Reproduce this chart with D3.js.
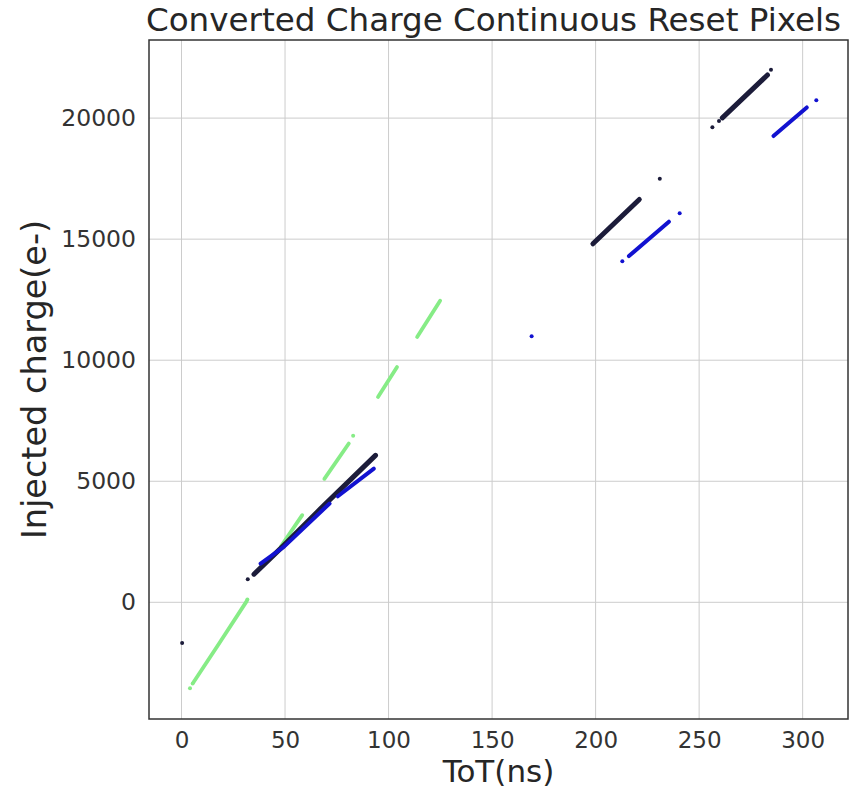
<!DOCTYPE html>
<html>
<head>
<meta charset="utf-8">
<script src="https://cdn.jsdelivr.net/npm/d3@7"></script>
<style>
  html, body { margin: 0; padding: 0; background: #fff; }
  svg { display: block; font-family: "DejaVu Sans", sans-serif; }
</style>
</head>
<body>
<svg id="chart" width="854" height="790"></svg>
<script>
// ---- Data ----
const xTicks = [0, 50, 100, 150, 200, 250, 300];
const yTicks = [0, 5000, 10000, 15000, 20000];

// Each streak: dense scatter runs, given as samples [ToT(ns), charge(e-)]
const greenStreaks = [
  [[5.8, -3300], [18, -1720], [31.5, 50]],
  [[48, 2300], [51.1, 2700], [58.3, 3600]],
  [[69, 5100], [80.8, 6560]],
  [[94.9, 8480], [104.1, 9720]],
  [[113.8, 10960], [124.9, 12460]]
];
const greenDots = [[4.1, -3550], [5.4, -3350], [31.8, 120], [82.9, 6880]];

const blackStreaks = [
  [[35, 1160], [49.4, 2350], [67.1, 3860], [93.7, 6070]],
  [[198.7, 14810], [221.1, 16640]],
  [[261.2, 20010], [283, 21780]]
];
const blackDots = [[0.3, -1680], [32, 950], [231, 17490], [256.4, 19620], [259.6, 19880], [284.7, 22000]];

const blueStreaks = [
  [[38.2, 1600], [49.4, 2290], [71.5, 4080]],
  [[75.5, 4380], [92.9, 5520]],
  [[216.1, 14300], [235.4, 15720]],
  [[285.9, 19260], [302, 20440]]
];
const blueDots = [[169.1, 10990], [212.9, 14090], [240.6, 16070], [306.6, 20740]];

const series = [
  { name: "green", color: "#86ec86", streaks: greenStreaks, dots: greenDots, width: 3.8 },
  { name: "black", color: "#1c1c3a", streaks: blackStreaks, dots: blackDots, width: 5 },
  { name: "blue",  color: "#1212d0", streaks: blueStreaks,  dots: blueDots,  width: 4 }
];

// ---- Layout ----
const W = 854, H = 790;
const pL = 149, pR = 848, pT = 40, pB = 719;
const textColor = "#262626";

const x = d3.scaleLinear().domain([-15.7, 321.9]).range([pL, pR]);
const y = d3.scaleLinear().domain([-4820, 23226]).range([pB, pT]);

const svg = d3.select("#chart");
svg.append("rect").attr("width", W).attr("height", H).attr("fill", "#fff");

// Grid
const grid = svg.append("g");
grid.selectAll("line.vx").data(xTicks).join("line")
  .attr("x1", d => x(d)).attr("x2", d => x(d))
  .attr("y1", pT).attr("y2", pB)
  .attr("stroke", "#cccccc").attr("stroke-width", 1);
grid.selectAll("line.hy").data(yTicks).join("line")
  .attr("x1", pL).attr("x2", pR)
  .attr("y1", d => y(d)).attr("y2", d => y(d))
  .attr("stroke", "#cccccc").attr("stroke-width", 1);

// Axes (labels only, no tick marks)
const xAxis = d3.axisBottom(x).tickValues(xTicks).tickSize(0).tickFormat(d3.format("d"));
const yAxis = d3.axisLeft(y).tickValues(yTicks).tickSize(0).tickPadding(13).tickFormat(d3.format("d"));
const gx = svg.append("g").attr("transform", `translate(0,${pB})`).call(xAxis);
const gy = svg.append("g").attr("transform", `translate(${pL},0)`).call(yAxis);
[gx, gy].forEach(g => {
  g.select(".domain").remove();
  g.selectAll("text").attr("font-size", 23.5).attr("fill", "#333333")
    .attr("font-family", "DejaVu Sans, sans-serif");
});
gx.selectAll("text").attr("y", 28.5).attr("dy", "0").attr("font-size", 23);

// Data
const plot = svg.append("g");
const line = d3.line().x(d => x(d[0])).y(d => y(d[1]));
series.forEach(s => {
  const g = plot.append("g").attr("class", s.name);
  g.selectAll("path").data(s.streaks).join("path")
    .attr("d", line)
    .attr("fill", "none")
    .attr("stroke", s.color)
    .attr("stroke-width", s.width)
    .attr("stroke-linecap", "round")
    .attr("stroke-linejoin", "round");
  g.selectAll("circle").data(s.dots).join("circle")
    .attr("cx", d => x(d[0])).attr("cy", d => y(d[1]))
    .attr("r", 2).attr("fill", s.color);
});

// Frame
svg.append("rect")
  .attr("x", pL).attr("y", pT)
  .attr("width", pR - pL).attr("height", pB - pT)
  .attr("fill", "none").attr("stroke", "#333333").attr("stroke-width", 1.5);

// Title & axis labels
svg.append("text")
  .attr("x", (pL + pR) / 2 - 5).attr("y", 31)
  .attr("text-anchor", "middle").attr("font-size", 32.6).attr("fill", textColor)
  .text("Converted Charge Continuous Reset Pixels");

svg.append("text")
  .attr("x", (pL + pR) / 2).attr("y", 782)
  .attr("text-anchor", "middle").attr("font-size", 31).attr("fill", textColor)
  .text("ToT(ns)");

svg.append("text")
  .attr("transform", `translate(46,${(pT + pB) / 2}) rotate(-90)`)
  .attr("text-anchor", "middle").attr("font-size", 33.5).attr("fill", textColor)
  .text("Injected charge(e-)");
</script>
</body>
</html>
